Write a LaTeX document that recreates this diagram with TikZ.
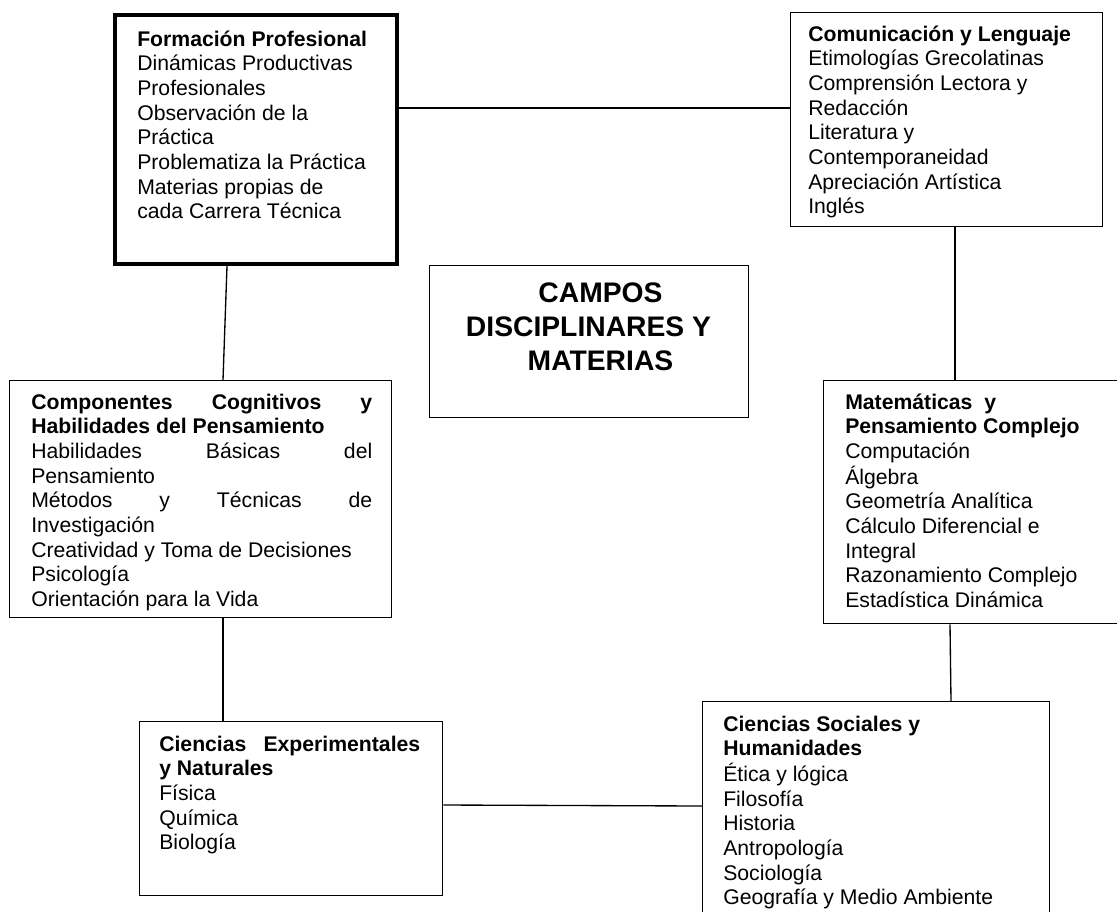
\documentclass[tikz,border=0pt]{standalone}
\usepackage{fontspec}
\setmainfont{Liberation Sans}
\usetikzlibrary{positioning, calc}
\newcommand{\fldlist}[1]{\begin{tabular}[t]{@{}l@{}}#1\end{tabular}}
\newcommand{\fldtitle}[1]{\begin{tabular}[t]{@{}c@{}}#1\end{tabular}}
\tikzset{
  fld/.style = {rectangle, draw=black, line width=1pt, inner sep=0pt, anchor=north west},
  lst/.style = {anchor=base west, inner sep=0pt,
                font=\fontsize{15.9}{18.5}\selectfont},
  ttl/.style = {anchor=base, inner sep=0pt,
                font=\fontsize{21.2}{25.5}\selectfont\bfseries},
  lnk/.style = {draw=black, line width=1pt},
}

\begin{document}
\begin{tikzpicture}[x=0.75pt, y=-0.75pt]
  \useasboundingbox (0,0) rectangle (1117,911);

  % campos (boxes)
  \node[fld, line width=3pt, minimum width=211.5pt, minimum height=186.75pt] (fp) at (113,13) {};
  \node[fld, minimum width=234pt,    minimum height=160.5pt]  (cl)  at (790,12)  {};
  \node[fld, minimum width=239.25pt, minimum height=114pt]    (tit) at (429,265) {};
  \node[fld, minimum width=286.5pt,  minimum height=177.75pt] (cc)  at (9,380)   {};
  \node[fld, minimum width=230.25pt, minimum height=182.25pt] (mat) at (823,380) {};
  \node[fld, minimum width=227.25pt, minimum height=130.5pt]  (ce)  at (139,721) {};
  \node[fld, minimum width=260.25pt, minimum height=171.75pt] (cs)  at (702,701) {};

  % materias
  \node[lst] (fptxt) at ($(fp.north west)+(24,33)$) {\fldlist{\textbf{Formación Profesional}\\
    Dinámicas Productivas\\ Profesionales\\ Observación de la\\ Práctica\\
    Problematiza la Práctica\\ Materias propias de\\ cada Carrera Técnica}};
  \node[lst] (cltxt) at ($(cl.north west)+(18,29)$) {\fldlist{\textbf{Comunicación y Lenguaje}\\
    Etimologías Grecolatinas\\ Comprensión Lectora y\\ Redacción\\ Literatura y\\
    Contemporaneidad\\ Apreciación Artística\\ Inglés}};
  \node[ttl] (tittxt) at ($(tit.north west)+(159.5,37)$) {\fldtitle{\hspace*{18pt}CAMPOS\\
    DISCIPLINARES Y\\ \hspace*{18pt}MATERIAS}};
  \node[lst] (cctxt) at ($(cc.north west)+(22,29)$) {\fldlist{%
    \makebox[255.75pt][s]{\textbf{Componentes Cognitivos y}}\\
    \textbf{Habilidades del Pensamiento}\\
    \makebox[255.75pt][s]{Habilidades Básicas del}\\ Pensamiento\\
    \makebox[255.75pt][s]{Métodos y Técnicas de}\\ Investigación\\
    Creatividad y Toma de Decisiones\\ Psicología\\ Orientación para la Vida}};
  \node[lst] (mattxt) at ($(mat.north west)+(22,29)$) {\fldlist{\textbf{Matemáticas\ \ y}\\
    \textbf{Pensamiento Complejo}\\ Computación\\ Álgebra\\ Geometría Analítica\\
    Cálculo Diferencial e\\ Integral\\ Razonamiento Complejo\\ Estadística Dinámica}};
  \node[lst] (cetxt) at ($(ce.north west)+(20,30)$) {\fldlist{%
    \makebox[195.75pt][s]{\textbf{Ciencias Experimentales}}\\
    \textbf{y Naturales}\\ Física\\ Química\\ Biología}};
  \node[lst] (cstxt) at ($(cs.north west)+(21,30)$) {\fldlist{\textbf{Ciencias Sociales y}\\
    \textbf{Humanidades}\\ Ética y lógica\\ Filosofía\\ Historia\\ Antropología\\
    Sociología\\ Geografía y Medio Ambiente}};

  % links
  \coordinate (hl) at (0,108);
  \draw[lnk] (fp.east |- hl) -- (cl.west |- hl);
  \draw[lnk] ($(fp.south west)+(114,0)$)  -- ($(cc.north west)+(214,0)$);
  \draw[lnk] ($(cl.south west)+(165,0)$)  -- ($(mat.north west)+(132,0)$);
  \draw[lnk] ($(cc.south west)+(214,0)$)  -- ($(ce.north west)+(84,0)$);
  \draw[lnk] ($(mat.south west)+(127,0)$) -- ($(cs.north west)+(249,0)$);
  \draw[lnk] ($(ce.north east)+(0,84)$)   -- ($(cs.north west)+(0,105)$);
\end{tikzpicture}
\end{document}
